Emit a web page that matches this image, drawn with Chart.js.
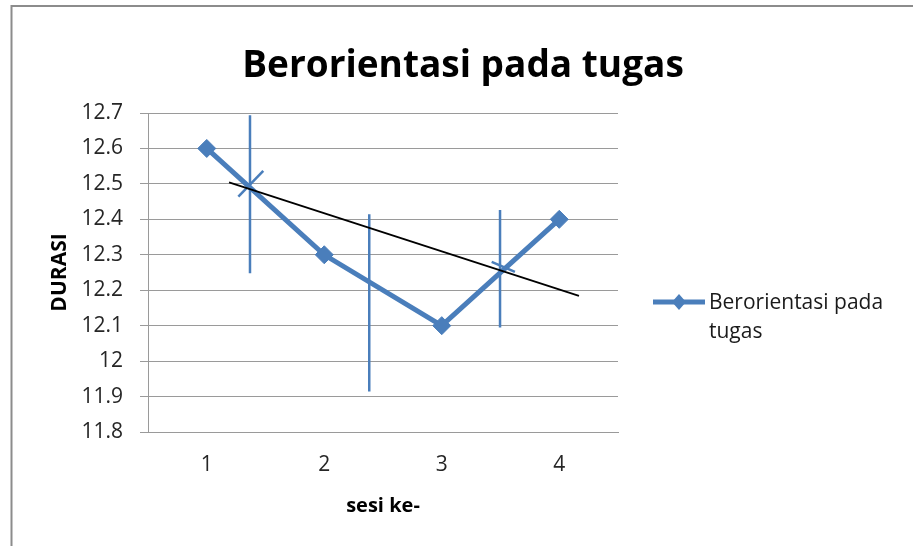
<!DOCTYPE html>
<html lang="id">
<head>
<meta charset="utf-8">
<title>Berorientasi pada tugas</title>
<script src="https://cdn.jsdelivr.net/npm/chart.js@4/dist/chart.umd.min.js"></script>
<style>
  html, body { margin: 0; padding: 0; background: #ffffff; }
  #wrap { width: 913px; height: 546px; position: relative; }
  canvas { display: block; }
</style>
</head>
<body>
<div id="wrap"><canvas id="grafik" width="913" height="546"></canvas></div>
<script>
// Durasi per sesi
const sesi = [1, 2, 3, 4];
const durasi = [12.6, 12.3, 12.1, 12.4];
const yTicks = [11.8, 11.9, 12.0, 12.1, 12.2, 12.3, 12.4, 12.5, 12.6, 12.7];

const judul = 'Berorientasi pada tugas';
const labelSeri = 'Berorientasi pada tugas';
const judulY = 'DURASI';
const judulX = 'sesi ke-';

// Garis tren (x = sesi, y = durasi)
const garisTren = [[1.19, 12.504], [4.168, 12.184]];

// Coretan penanda pada grafik (x = sesi, y = durasi)
const penanda = [
  [[1.368, 12.694], [1.368, 12.248]],
  [[1.269, 12.464], [1.481, 12.537]],
  [[2.383, 12.414], [2.383, 11.914]],
  [[3.496, 12.426], [3.496, 12.095]],
  [[3.425, 12.280], [3.623, 12.252]]
];

const BIRU = '#4a7ebb';
const ABU = '#9a9a9a';
const FONT = '"Open Sans", "DejaVu Sans", sans-serif';

const toPts = arr => arr.map(p => ({ x: p[0], y: p[1] }));

const datasets = [
  {
    label: labelSeri,
    data: sesi.map((s, i) => ({ x: s, y: durasi[i] })),
    borderColor: BIRU,
    backgroundColor: BIRU,
    borderWidth: 5,
    pointStyle: 'rectRot',
    pointRadius: 9,
    pointBorderWidth: 1,
    pointBackgroundColor: BIRU,
    pointBorderColor: BIRU,
    tension: 0,
    order: 10
  },
  {
    label: 'tren',
    data: toPts(garisTren),
    borderColor: '#000000',
    borderWidth: 1.8,
    pointRadius: 0,
    order: 0
  }
].concat(penanda.map((seg, i) => ({
  label: 'penanda ' + (i + 1),
  data: toPts(seg),
  borderColor: BIRU,
  borderWidth: 2.5,
  pointRadius: 0,
  order: 1
})));

// Bingkai, judul dan legenda digambar di atas kanvas
const dekorasi = {
  id: 'dekorasi',
  beforeDraw(chart) {
    const ctx = chart.ctx;
    ctx.save();
    ctx.fillStyle = '#ffffff';
    ctx.fillRect(0, 0, chart.width, chart.height);
    ctx.strokeStyle = '#8c8c8c';
    ctx.lineWidth = 2;
    ctx.beginPath();
    ctx.moveTo(11.5, chart.height);
    ctx.lineTo(11.5, 6);
    ctx.lineTo(chart.width, 6);
    ctx.stroke();
    ctx.restore();
  },
  afterDraw(chart) {
    const ctx = chart.ctx;
    ctx.save();
    // judul
    ctx.fillStyle = '#000000';
    ctx.font = 'bold 37px ' + FONT;
    ctx.textAlign = 'center';
    ctx.textBaseline = 'alphabetic';
    ctx.fillText(judul, 463, 77);

    // legenda
    const ly = 302;
    ctx.strokeStyle = BIRU;
    ctx.lineWidth = 5;
    ctx.beginPath();
    ctx.moveTo(653, ly);
    ctx.lineTo(705, ly);
    ctx.stroke();
    ctx.fillStyle = BIRU;
    ctx.beginPath();
    ctx.moveTo(679 - 7, ly);
    ctx.lineTo(679, ly - 8);
    ctx.lineTo(679 + 7, ly);
    ctx.lineTo(679, ly + 8);
    ctx.closePath();
    ctx.fill();

    ctx.fillStyle = '#1a1a1a';
    ctx.font = '21px ' + FONT;
    ctx.textAlign = 'left';
    const maxW = 190;
    const words = chart.data.datasets[0].label.split(' ');
    const lines = [];
    let cur = '';
    words.forEach(w => {
      const t = cur ? cur + ' ' + w : w;
      if (ctx.measureText(t).width > maxW && cur) { lines.push(cur); cur = w; }
      else cur = t;
    });
    if (cur) lines.push(cur);
    lines.forEach((ln, i) => ctx.fillText(ln, 709, 309 + i * 29));
    ctx.restore();
  }
};

new Chart(document.getElementById('grafik'), {
  type: 'line',
  data: { datasets },
  options: {
    responsive: false,
    animation: false,
    devicePixelRatio: 1,
    layout: { padding: { top: 113, right: 295, bottom: 0, left: 0 } },
    plugins: {
      legend: { display: false },
      title: { display: false },
      tooltip: { enabled: false }
    },
    scales: {
      x: {
        type: 'linear',
        min: 0.5,
        max: 4.5,
        afterBuildTicks: s => { s.ticks = sesi.map(v => ({ value: v })); },
        afterFit: s => { s.height = 114; },
        grid: { display: false, drawTicks: false },
        border: { display: true, color: ABU, width: 1 },
        ticks: {
          color: '#262626',
          font: { family: FONT, size: 21 },
          padding: 20,
          autoSkip: false,
          maxRotation: 0,
          callback: v => String(v)
        },
        title: {
          display: true,
          text: judulX,
          color: '#000000',
          font: { family: FONT, size: 20, weight: 'bold' },
          padding: { top: 0, bottom: 28 }
        }
      },
      y: {
        type: 'linear',
        min: 11.8,
        max: 12.7,
        afterBuildTicks: s => { s.ticks = yTicks.map(v => ({ value: v })); },
        afterFit: s => { s.width = 148; },
        grid: { color: ABU, lineWidth: 1, drawTicks: true, tickLength: 8, tickColor: ABU },
        border: { display: true, color: ABU, width: 1 },
        ticks: {
          color: '#262626',
          font: { family: FONT, size: 21 },
          padding: 17,
          autoSkip: false,
          callback: v => String(+(+v).toFixed(1))
        },
        title: {
          display: true,
          text: judulY,
          color: '#000000',
          font: { family: FONT, size: 21, weight: 'bold' },
          padding: { top: 47, bottom: 0 }
        }
      }
    }
  },
  plugins: [dekorasi]
});
</script>
</body>
</html>
